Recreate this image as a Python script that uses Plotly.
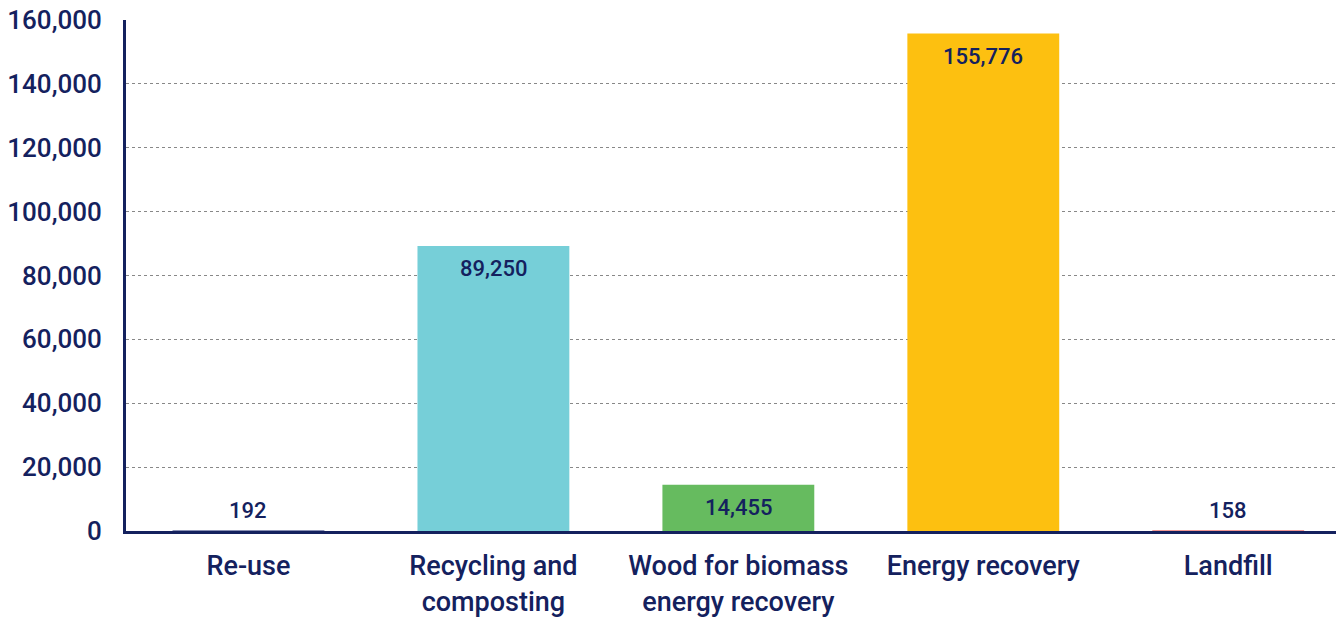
import plotly.graph_objects as go

categories = ["Re-use", "Recycling and<br>composting", "Wood for biomass<br>energy recovery", "Energy recovery", "Landfill"]
values = [192, 89250, 14455, 155776, 158]
colors = ["#14236b", "#76cfd8", "#66bb5f", "#fdc010", "#e0312a"]
tick_vals = [0, 20000, 40000, 60000, 80000, 100000, 120000, 140000, 160000]

NAVY = "#14215e"
FONT = "Roboto"

fig = go.Figure()
fig.add_trace(go.Bar(
    x=list(range(len(categories))), y=values,
    marker=dict(color=colors, line=dict(width=0)),
    width=0.62, hoverinfo="skip",
))

for i, v in enumerate(values):
    inside = v > 5000
    fig.add_annotation(
        x=i, y=v, text=f"{v:,}", showarrow=False,
        yshift=-23 if inside else 20,
        font=dict(family=FONT, size=22, color=NAVY, weight=500),
        xanchor="center", yanchor="middle",
    )

fig.update_layout(
    width=1338, height=618,
    margin=dict(l=126, r=2, t=20, b=87),
    plot_bgcolor="white", paper_bgcolor="white",
    showlegend=False,
    font=dict(family=FONT, color=NAVY),
    xaxis=dict(
        range=[-0.5, 4.44],
        tickmode="array", tickvals=list(range(len(categories))), ticktext=categories,
        tickfont=dict(family=FONT, size=27, color=NAVY, weight=500),
        showgrid=False, zeroline=False,
        showline=True, linecolor=NAVY, linewidth=3,
        ticks="", ticklabelstandoff=9, automargin=False,
    ),
    yaxis=dict(
        range=[0, 160000],
        tickmode="array", tickvals=tick_vals,
        ticktext=[f"{t:,}" for t in tick_vals],
        tickfont=dict(family=FONT, size=26, color=NAVY, weight=500),
        showgrid=True, gridcolor="#888888", gridwidth=1, griddash="dot",
        zeroline=False,
        showline=True, linecolor=NAVY, linewidth=3,
        ticks="", ticklabelstandoff=16, automargin=False,
    ),
)

fig.write_html(
    "out.html",
    config={"displayModeBar": False, "staticPlot": True},
    post_script="document.body.style.margin='0';document.body.style.overflow='hidden';",
)
